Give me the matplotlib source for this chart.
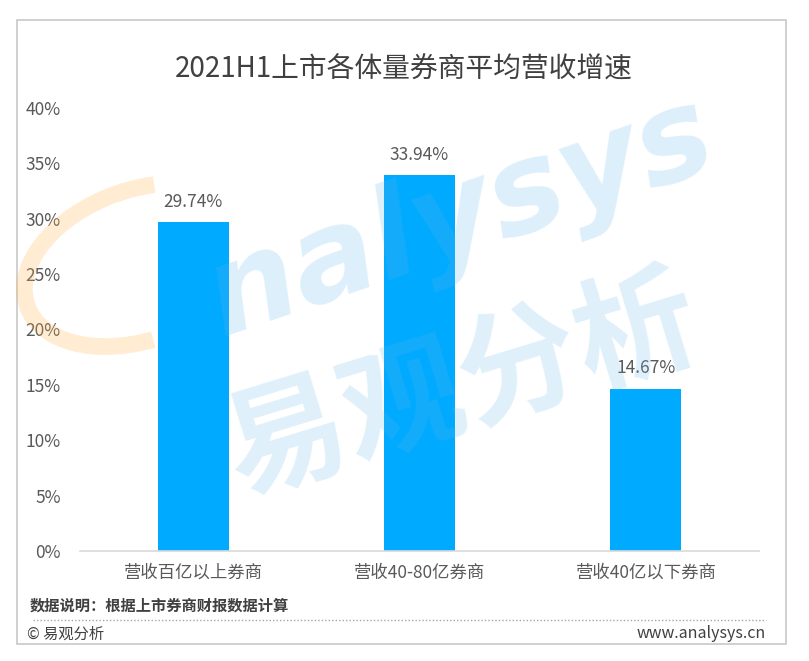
import matplotlib
matplotlib.use('Agg')
from matplotlib import pyplot as plt
from matplotlib import patches
import numpy as np

plt.rcParams['font.family'] = ['Noto Sans CJK SC', 'DejaVu Sans']

# data
categories = ['营收百亿以上券商', '营收40-80亿券商', '营收40亿以下券商']
growth = [29.74, 33.94, 14.67]
yticks = [0, 5, 10, 15, 20, 25, 30, 35, 40]

title = '2021H1上市各体量券商平均营收增速'
note = '数据说明：根据上市券商财报数据计算'

W, H = 809, 661
fig = plt.figure(figsize=(W / 100, H / 100), dpi=100)
fig.patch.set_facecolor('white')

ax = fig.add_axes([80 / W, 1 - 551 / H, (759 - 80) / W, (551 - 108) / H])
x = np.arange(len(categories))
bars = ax.bar(x, growth, width=0.313, color='#00AAFF', zorder=2)
for xi, v in zip(x, growth):
    ax.annotate(f'{v:.2f}%', (xi, v), xytext=(0, 8), textcoords='offset points',
                ha='center', va='bottom', fontsize=12.5, color='#595959')

ax.set_xlim(-0.5, len(categories) - 0.5)
ax.set_ylim(0, 40)
ax.set_yticks(yticks)
ax.set_yticklabels([f'{t}%' for t in yticks])
ax.set_xticks(x)
ax.set_xticklabels(categories)
ax.tick_params(axis='y', length=0, pad=14, labelsize=12.5, labelcolor='#595959')
ax.tick_params(axis='x', length=0, pad=9, labelsize=12.5, labelcolor='#595959')
for s in ['top', 'right', 'left']:
    ax.spines[s].set_visible(False)
ax.spines['bottom'].set_color('#D9D9D9')
ax.spines['bottom'].set_linewidth(1.2)

# overlay in pixel coords for frame, notes and watermark
ov = fig.add_axes([0, 0, 1, 1], zorder=5)
ov.set_xlim(0, W)
ov.set_ylim(H, 0)
ov.axis('off')
ov.patch.set_alpha(0)

ov.add_patch(patches.Rectangle((17, 20), 769, 624, fill=False, ec='#C8C8C8', lw=1.2))
ov.text(404, 70, title, ha='center', va='center', fontsize=20, color='#404040')
ov.text(30, 606, note, ha='left', va='center', fontsize=11, color='#404040',
        fontweight='bold')
ov.plot([33, 766], [620, 620], ls=(0, (1, 1.5)), color='#A6A6A6', lw=1)
ov.text(27, 634, '© 易观分析', ha='left', va='center', fontsize=11, color='#404040',
        family=['Noto Sans CJK SC', 'DejaVu Sans'])
ov.text(766, 634, 'www.analysys.cn', ha='right', va='center', fontsize=11.5,
        color='#404040')

# watermark
ov.add_patch(patches.Arc((140, 265), 240, 150, angle=-20, theta1=100, theta2=300,
                         color='#FFB54D', lw=12, alpha=0.25))
ov.text(460, 218, 'nalysys', ha='center', va='center', fontsize=90,
        fontweight='bold', style='italic', color='#5DB6EA', alpha=0.22,
        rotation=19, family='DejaVu Sans')
ov.text(462, 388, '易观分析', ha='center', va='center', fontsize=88,
        fontweight='bold', color='#5DB6EA', alpha=0.2, rotation=17)

fig.savefig('out.png', dpi=100)
